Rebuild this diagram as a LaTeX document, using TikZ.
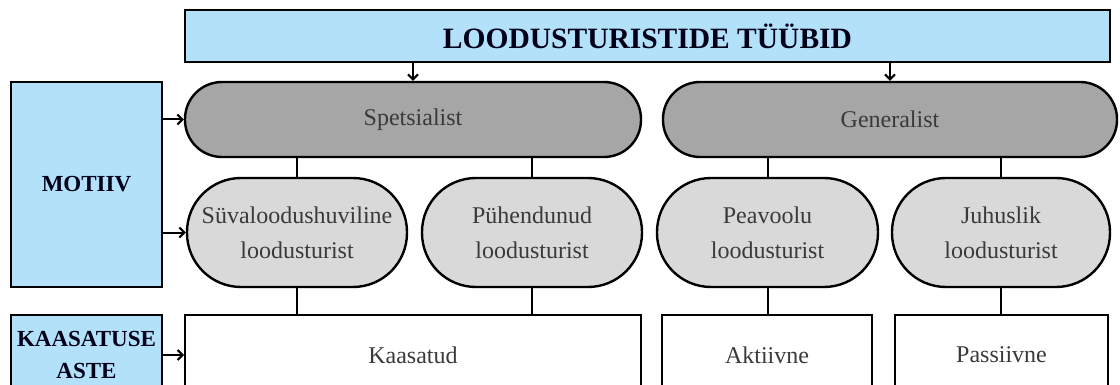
\documentclass[tikz,border=0pt]{standalone}
\usepackage{fontspec}
\setmainfont{Liberation Serif}
\usepackage{tikz}
\usetikzlibrary{arrows.meta,positioning}
\definecolor{kast}{HTML}{B4E1FA}
\definecolor{tume}{HTML}{A6A6A6}
\definecolor{hele}{HTML}{D9D9D9}
\definecolor{tekst}{HTML}{3A3A3A}
\begin{document}
\begin{tikzpicture}[x=1pt,y=-1pt,
tase/.style={draw,line width=2pt,fill=kast,align=center,text=black!90!blue,font=\fontsize{23}{32}\selectfont\bfseries},
tyyp/.style={draw,line width=2.4pt,fill=tume,rounded corners=37pt,minimum height=75pt,text=tekst,font=\fontsize{24}{35}\selectfont},
alam/.style={draw,line width=2.4pt,fill=hele,rounded corners=54pt,minimum height=109pt,align=center,text=tekst,font=\fontsize{24}{35}\selectfont},
aste/.style={draw,line width=2pt,fill=white,minimum height=80pt,text=tekst,font=\fontsize{24}{35}\selectfont},
nool/.style={line width=2pt,-{Straight Barb[length=5pt,width=10pt,line width=2pt]}}]
\useasboundingbox (0,0) rectangle (1120,385);
\clip (0,0) rectangle (1120,385);
\node[tase,minimum width=925pt,minimum height=52pt,font=\fontsize{29.5}{34}\selectfont\bfseries] (pealkiri) at (647.5,36) {LOODUSTURISTIDE TÜÜBID};
\node[tase,minimum width=151pt,minimum height=205pt] (motiiv) at (86.5,184.5) {MOTIIV};
\node[tase,minimum width=151pt,minimum height=80pt] (kaasatus) at (86.5,355) {KAASATUSE\\ASTE};
\node[tyyp,minimum width=456pt] (spets) at (413,119.5) {Spetsialist};
\node[tyyp,minimum width=454pt] (gener) at (890,119.5) {Generalist};
\node[alam,minimum width=220pt] (suva) at (297,232.5) {Süvaloodushuviline\\loodusturist};
\node[alam,minimum width=220pt] (pyh) at (532,232.5) {Pühendunud\\loodusturist};
\node[alam,minimum width=221pt] (peav) at (767.5,232.5) {Peavoolu\\loodusturist};
\node[alam,minimum width=218pt] (juhu) at (1001,232.5) {Juhuslik\\loodusturist};
\node[aste,minimum width=456pt] (kaas) at (413,355) {Kaasatud};
\node[aste,minimum width=210pt] (akt) at (767,355) {Aktiivne};
\node[aste,minimum width=213pt] (pass) at (1001.5,355) {Passiivne};
\draw[nool] (pealkiri.south -| spets) -- (spets.north);
\draw[nool] (pealkiri.south -| gener) -- (gener.north);
\draw[nool] (motiiv.east |- spets) -- (spets.west);
\draw[nool] (motiiv.east |- suva) -- (suva.west);
\draw[nool] (kaasatus.east |- kaas) -- (kaas.west);
\foreach \x/\y/\z in {suva/spets/kaas,pyh/spets/kaas,peav/gener/akt,juhu/gener/pass}{
\draw[line width=2pt] (\x.north) -- (\x.north |- \y.south);
\draw[line width=2pt] (\x.south) -- (\x.south |- \z.north);}
\end{tikzpicture}
\end{document}
